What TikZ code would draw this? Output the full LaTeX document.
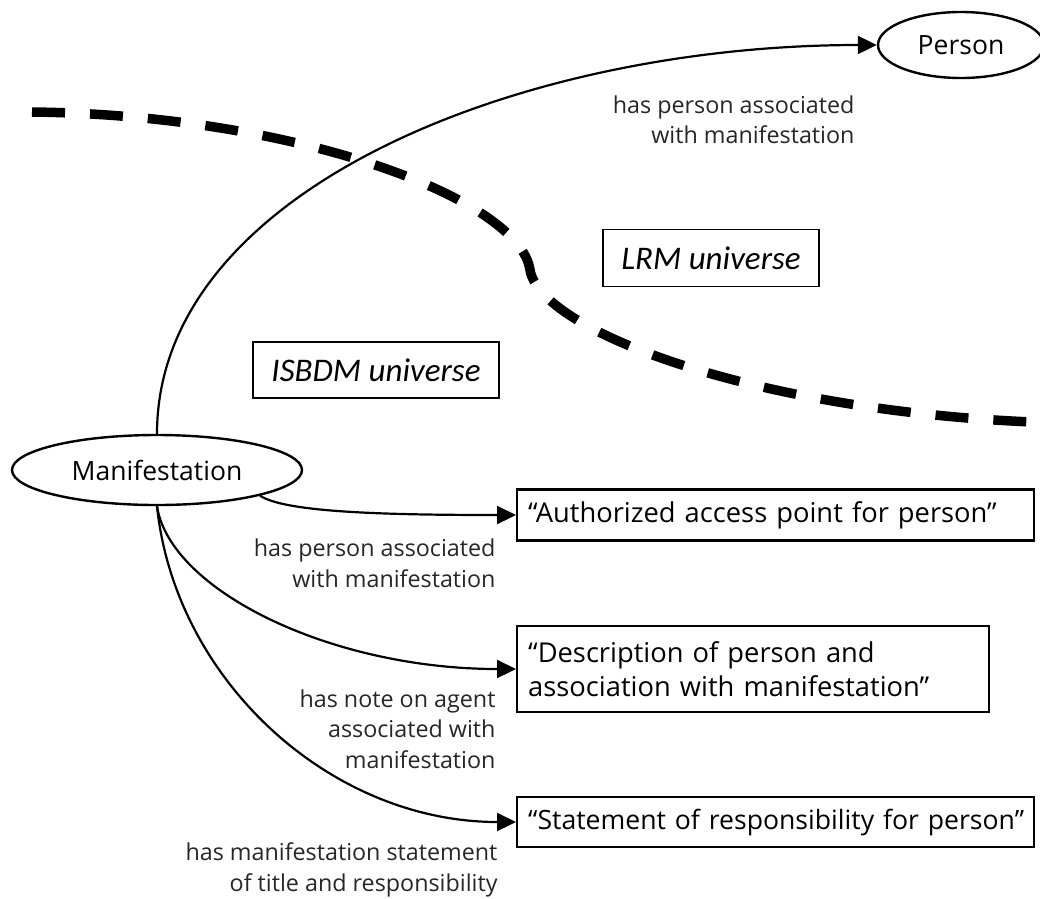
\documentclass[tikz,border=0pt]{standalone}
\usepackage{fontspec}
\setmainfont{Open Sans}
\newfontfamily\univfont{Carlito}
\usetikzlibrary{arrows.meta,shapes.geometric}

\tikzset{
  entity/.style={draw, ellipse, line width=2.4pt, inner sep=0pt,
    font=\fontsize{26.5}{30}\selectfont},
  valuebox/.style={draw, rectangle, line width=2.4pt, inner xsep=11pt,
    align=left, anchor=west, font=\fontsize{27.3}{34}\selectfont},
  universe/.style={draw, rectangle, line width=1.8pt,
    font=\univfont\itshape\fontsize{33}{36}\selectfont},
  rel/.style={line width=2.2pt, -{Triangle[length=19pt,width=18pt]}},
  rellabel/.style={align=right, anchor=east,
    font=\fontsize{23.3}{30.5}\selectfont, text=black!85},
  border/.style={line width=9.5pt, dash pattern=on 33pt off 25pt}
}

\begin{document}
\begin{tikzpicture}[x=1pt,y=-1pt]
\useasboundingbox (0,0) rectangle (1040,898);

% boundary between the two universes
\draw[border] (32,112) .. controls (300,115) and (520,200) .. (530,270)
  .. controls (540,330) and (750,410) .. (1032,422);

% entities
\node[entity, minimum width=166pt, minimum height=66pt] (person) at (961,45) {Person};
\node[entity, minimum width=290pt, minimum height=70pt] (manif) at (157,470) {Manifestation};

% universe labels
\node[universe, minimum width=246pt, minimum height=56pt] (isbdm) at (376,370) {ISBDM universe};
\node[universe, minimum width=216pt, minimum height=57pt] (lrm) at (711,258) {LRM universe};

% value strings
\node[valuebox, minimum width=517pt, minimum height=51pt, text width=495pt] (aap) at (516,515)
  {\mbox{“Authorized access point for person”}};
\node[valuebox, minimum width=472pt, minimum height=86pt, text width=450pt] (desc) at (516,669)
  {“Description of person and\\association with manifestation”};
\node[valuebox, minimum width=517pt, minimum height=50pt, text width=495pt,
      font=\fontsize{26.6}{34}\selectfont] (sor) at (516,822)
  {\mbox{“Statement of responsibility for person”}};

% relationships
\draw[rel] (manif.north) .. controls (157,190) and (520,45) .. (person.west);
\draw[rel] (manif.-14) .. controls (285,512) and (380,515) .. (aap.west);
\draw[rel] (manif.south) .. controls (170,590) and (330,669) .. (desc.west);
\draw[rel] (manif.south) .. controls (175,680) and (330,822) .. (sor.west);

% relationship labels
\node[rellabel] (l1) at (858,120) {has person associated\\with manifestation};
\node[rellabel] (l2) at (499,563) {has person associated\\with manifestation};
\node[rellabel] (l3) at (499,729) {has note on agent\\associated with\\manifestation};
\node[rellabel] (l4) at (501,870) {has manifestation statement\\of title and responsibility};
\end{tikzpicture}
\end{document}
